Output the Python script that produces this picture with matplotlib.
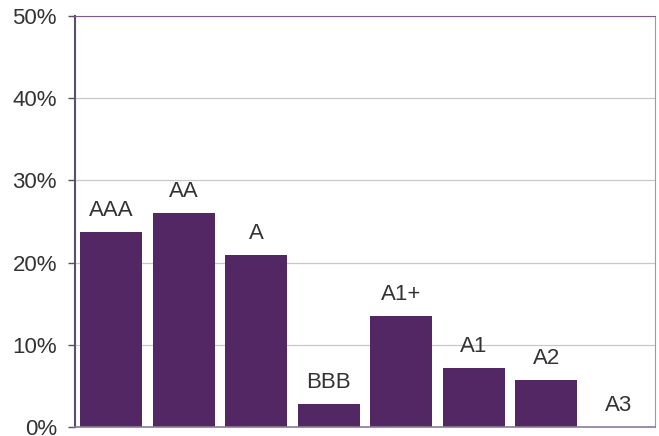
import matplotlib.pyplot as plt

plt.rcParams['font.family'] = ['Liberation Sans', 'DejaVu Sans']

ratings = ["AAA", "AA", "A", "BBB", "A1+", "A1", "A2", "A3"]
shares = [23.7, 26.0, 20.9, 2.8, 13.5, 7.2, 5.7, 0.0]
yticks = [0, 10, 20, 30, 40, 50]
ytick_labels = ["0%", "10%", "20%", "30%", "40%", "50%"]

bar_color = "#532763"

fig = plt.figure(figsize=(6.59, 4.36), dpi=100)
ax = fig.add_axes([0.1138, 0.0206, 0.8802, 0.9427])

x = range(len(ratings))
bars = ax.bar(x, shares, width=0.85, color=bar_color, zorder=2)

for xi, v, lab in zip(x, shares, ratings):
    ax.annotate(lab, (xi, v), xytext=(0, 8), textcoords="offset points",
                ha="center", va="bottom", fontsize=16, color="#333333")

ax.set_xlim(-0.5, len(ratings) - 0.5)
ax.set_ylim(0, 50)
ax.set_yticks(yticks)
ax.set_yticklabels(ytick_labels, fontsize=16, color="#333333")
ax.set_xticks([])
ax.yaxis.grid(True, color="#c8c8c8", linewidth=0.9, zorder=0)
ax.set_axisbelow(True)
ax.tick_params(axis="y", length=5, width=1, color="#555555", pad=8)

ax.spines["left"].set_color("#5e4e6c")
ax.spines["left"].set_linewidth(1.5)
ax.spines["bottom"].set_color("#8a7a96")
ax.spines["bottom"].set_linewidth(1.2)
ax.spines["top"].set_color("#7a5a8a")
ax.spines["right"].set_color("#a88fb8")

plt.savefig("out.png", dpi=100)
